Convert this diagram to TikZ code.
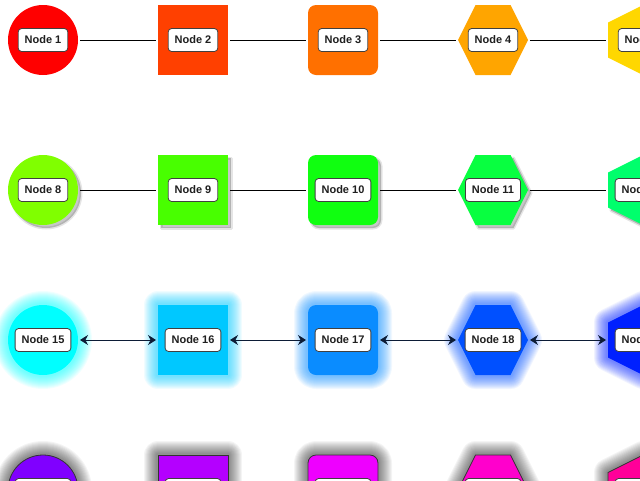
\documentclass[tikz,border=0pt]{standalone}
\usepackage{fontspec}
\newfontfamily\tagfamily{Liberation Sans}
\usetikzlibrary{arrows.meta}

% fill colours, numbered like the nodes
\definecolor{col1}{HTML}{FF0000}
\definecolor{col2}{HTML}{FF4000}
\definecolor{col3}{HTML}{FF7000}
\definecolor{col4}{HTML}{FFA500}
\definecolor{col5}{HTML}{FFD700}
\definecolor{col8}{HTML}{80FF00}
\definecolor{col9}{HTML}{48FF00}
\definecolor{col10}{HTML}{10FF10}
\definecolor{col11}{HTML}{08FF40}
\definecolor{col12}{HTML}{00FF6C}
\definecolor{col15}{HTML}{00FFFF}
\definecolor{col16}{HTML}{00C8FF}
\definecolor{col17}{HTML}{0A8CFF}
\definecolor{col18}{HTML}{0050FF}
\definecolor{col19}{HTML}{0020FF}
\definecolor{col22}{HTML}{8000FF}
\definecolor{col23}{HTML}{B400FF}
\definecolor{col24}{HTML}{EE00FF}
\definecolor{col25}{HTML}{FF00CC}
\definecolor{col26}{HTML}{FF0099}
\definecolor{navy}{HTML}{0C1C36}

% outlines, drawn round (0,0)
\newcommand{\roundshape}{(0,0) circle[radius=35]}
\newcommand{\squareshape}{(-35,-35) rectangle (35,35)}
\newcommand{\softshape}{[rounded corners=8pt] (-35,-35) rectangle (35,35)}
\newcommand{\hexshape}{(-35,0) -- (-17.5,35) -- (17.5,35) -- (35,0) -- (17.5,-35) -- (-17.5,-35) -- cycle}
\newcommand{\vhexshape}{(0,35) -- (35,17.5) -- (35,-17.5) -- (0,-35) -- (-35,-17.5) -- (-35,17.5) -- cycle}

\tikzset{
  slot/.style={minimum size=70pt,inner sep=0pt,outer sep=0pt},
  tag/.style={draw=black!75,fill=white,rounded corners=3.5pt,line width=0.8pt,
    minimum height=23pt,inner xsep=6.5pt,text=black!88,
    font=\tagfamily\bfseries\fontsize{11}{13}\selectfont},
  link/.style={line width=0.8pt,shorten <=2pt,shorten >=2pt},
  duplex/.style={link,draw=navy,
    {Stealth[length=8pt,width=10pt]}-{Stealth[length=8pt,width=10pt]}},
  dropfill/.style={fill=black,opacity=0.22},
  dropblur/.style={draw=black,opacity=0.10,line width=3pt,line join=round},
  haze/.style={line join=round,opacity=0.06},
  rim/.style={draw=black!80,line width=0.8pt},
}

\begin{document}
\begin{tikzpicture}[x=1pt,y=1pt]
  \useasboundingbox (0,0) rectangle (640,-480);
  \clip (0,0) rectangle (640,-480);

  % row 1: plain fills
  \foreach \shp [count=\k from 0] in {\roundshape,\squareshape,\softshape,\hexshape,\vhexshape}{
    \pgfmathtruncatemacro{\id}{\k+1}
    \node[slot] (n\id) at (43+150*\k,-40) {};
    \fill[fill=col\id,shift={(n\id)}] \shp;
    \node[tag] (t\id) at (n\id) {Node \id};
  }
  \foreach \a/\b in {1/2,2/3,3/4,4/5}
    \draw[link] (n\a) -- (n\b);

  % row 2: drop shadows
  \foreach \shp [count=\k from 0] in {\roundshape,\squareshape,\softshape,\hexshape,\vhexshape}{
    \pgfmathtruncatemacro{\id}{\k+8}
    \node[slot] (n\id) at (43+150*\k,-190) {};
    \begin{scope}[shift={(n\id)}]
      \fill[dropfill,xshift=3pt,yshift=-3pt] \shp;
      \draw[dropblur,xshift=3pt,yshift=-3pt] \shp;
      \fill[fill=col\id] \shp;
    \end{scope}
    \node[tag] (t\id) at (n\id) {Node \id};
  }
  \foreach \a/\b in {8/9,9/10,10/11,11/12}
    \draw[link] (n\a) -- (n\b);

  % row 3: coloured glow
  \foreach \shp [count=\k from 0] in {\roundshape,\squareshape,\softshape,\hexshape,\vhexshape}{
    \pgfmathtruncatemacro{\id}{\k+15}
    \node[slot] (n\id) at (43+150*\k,-340) {};
    \begin{scope}[shift={(n\id)}]
      \foreach \w in {2,...,14}
        \draw[haze,draw=col\id,line width=2*\w] \shp;
      \fill[fill=col\id] \shp;
    \end{scope}
    \node[tag] (t\id) at (n\id) {Node \id};
  }
  \foreach \a/\b in {15/16,16/17,17/18,18/19}
    \draw[duplex] (n\a) -- (n\b);

  % row 4: grey glow, outlined
  \foreach \shp [count=\k from 0] in {\roundshape,\squareshape,\softshape,\hexshape,\vhexshape}{
    \pgfmathtruncatemacro{\id}{\k+22}
    \node[slot] (n\id) at (43+150*\k,-490) {};
    \begin{scope}[shift={(n\id)}]
      \foreach \w in {2,...,14}
        \draw[haze,draw=black,line width=2*\w,opacity=0.045] \shp;
      \fill[fill=col\id,rim] \shp;
    \end{scope}
    \node[tag] (t\id) at (n\id) {Node \id};
  }
\end{tikzpicture}
\end{document}
